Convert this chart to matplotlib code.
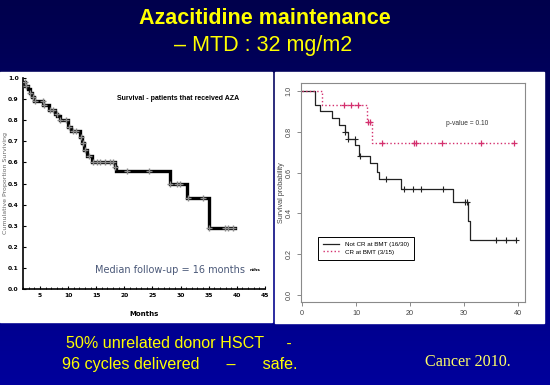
import numpy as np
import matplotlib
matplotlib.use("Agg")
import matplotlib.pyplot as plt
from matplotlib.patches import Rectangle
from matplotlib.lines import Line2D

# left panel: survival of patients that received AZA (months)
left_times = [2.0, 2.4, 2.8, 3.2, 3.6, 4.0, 5.6, 6.6, 7.7, 8.1, 8.6, 10.0, 10.6,
              12.1, 12.5, 12.9, 13.4, 14.2, 18.3, 18.5, 28.1, 31.1, 35.0]
left_surv = [0.98, 0.96, 0.95, 0.93, 0.91, 0.89, 0.87, 0.85, 0.83, 0.82, 0.80, 0.77, 0.75,
             0.72, 0.69, 0.66, 0.63, 0.60, 0.58, 0.56, 0.50, 0.43, 0.29]
left_end = 39.7
left_cens = [2.3, 2.6, 3.2, 3.8, 4.1, 5.5, 5.7, 6.8, 7.4, 8.0, 8.6, 9.7, 10.1, 10.9, 11.4,
             12.3, 12.7, 13.0, 13.8, 14.4, 15.1, 15.7, 16.6, 17.4, 18.0, 18.4, 20.4, 24.3,
             28.2, 29.3, 29.9, 31.4, 34.0, 35.1, 37.9, 38.5, 39.4]
left_xticks = [5, 10, 15, 20, 25, 30, 35, 40, 45]
left_yticks = [0.0, 0.1, 0.2, 0.3, 0.4, 0.5, 0.6, 0.7, 0.8, 0.9, 1.0]

# right panel: CR vs not CR at BMT
notcr_times = [0, 2.4, 3.3, 5.6, 6.8, 7.9, 8.5, 9.9, 10.5, 12.6, 13.8, 14.3, 18.4, 27.9, 30.8, 31.1]
notcr_surv = [1.0, 0.933, 0.90, 0.867, 0.833, 0.80, 0.767, 0.733, 0.683, 0.645, 0.605, 0.567,
              0.52, 0.455, 0.365, 0.27]
notcr_end = 39.7
notcr_cens = [8.0, 8.5, 9.8, 10.7, 15.5, 18.9, 20.5, 22.0, 26.2, 30.1, 30.6, 36.0, 37.7, 39.7]
cr_times = [0, 3.7, 12.1, 12.9]
cr_surv = [1.0, 0.933, 0.85, 0.745]
cr_end = 39.4
cr_cens = [7.8, 9.0, 10.4, 12.2, 12.6, 14.9, 20.8, 21.2, 25.9, 33.2, 39.3]
right_xticks = [0, 10, 20, 30, 40]
right_yticks = [0.0, 0.2, 0.4, 0.6, 0.8, 1.0]

YELLOW = "#ffff00"
PINK = "#d4306e"
SANS = ["Liberation Sans", "DejaVu Sans"]


def step_xy(times, surv, end):
    x = list(times) + [end]
    y = list(surv) + [surv[-1]]
    return x, y


def surv_at(times, surv, t):
    idx = np.searchsorted(times, t, side="right") - 1
    return np.array(surv)[np.clip(idx, 0, None)]


fig = plt.figure(figsize=(5.5, 3.85), dpi=100)

# slide background gradient
bg = fig.add_axes([0, 0, 1, 1], zorder=-10)
grad = np.linspace(0, 1, 256).reshape(-1, 1)
cmap = matplotlib.colors.LinearSegmentedColormap.from_list("bg", ["#00004c", "#00009c"])
bg.imshow(grad, aspect="auto", cmap=cmap, extent=[0, 1, 0, 1])
bg.axis("off")

# white panels
fig.patches.append(Rectangle((0, 1 - 322 / 385), 272 / 550, 250 / 385,
                             transform=fig.transFigure, color="white", zorder=-5))
fig.patches.append(Rectangle((275 / 550, 1 - 323 / 385), 269 / 550, 251 / 385,
                             transform=fig.transFigure, color="white", zorder=-5))

# titles
fig.text(0.482, 1 - 18 / 385, "Azacitidine maintenance", color=YELLOW, fontsize=15.5,
         fontweight="bold", family="Liberation Sans", ha="center", va="center")
fig.text(0.479, 1 - 45 / 385, "\u2013 MTD : 32 mg/m2", color=YELLOW, fontsize=15.5,
         family="Liberation Sans", ha="center", va="center")

# ---- left chart ----
ax1 = fig.add_axes([23 / 550, 1 - 289 / 385, 242 / 550, 211 / 385])
ax1.set_facecolor("none")
x, y = step_xy(left_times, left_surv, left_end)
ax1.step(x, y, where="post", color="black", lw=2.4, solid_joinstyle="miter", zorder=2)
ax1.plot(left_cens, surv_at(left_times, left_surv, left_cens), "+", color="#8a8a8a",
         ms=5, mew=1.0, zorder=3)
ax1.set_xlim(2, 45)
ax1.set_ylim(0, 1.0)
ax1.set_xticks(left_xticks)
ax1.set_xticks(np.arange(2, 46, 1), minor=True)
ax1.set_yticks(left_yticks)
ax1.set_yticklabels(["%.1f" % v for v in left_yticks])
for s in ["top", "right"]:
    ax1.spines[s].set_visible(False)
for s in ["left", "bottom"]:
    ax1.spines[s].set_linewidth(1.2)
ax1.tick_params(direction="in", length=2.5, width=0.8, labelsize=4.3, pad=3)
ax1.tick_params(which="minor", direction="in", length=1.5, width=0.6)
for lab in ax1.get_xticklabels() + ax1.get_yticklabels():
    lab.set_fontweight("bold")
ax1.set_ylabel("Cumulative Proportion Surviving", fontsize=4.5, color="#666666")
ax1.yaxis.set_label_coords(-0.062, 0.5)
ax1.set_xlabel("Months", fontsize=5, fontweight="bold", labelpad=9)
ax1.text(29.6, 0.905, "Survival - patients that received AZA", fontsize=5,
         fontweight="bold", family="Liberation Sans", ha="center", va="center")
ax1.text(28.1, 0.09, "Median follow-up = 16 months", fontsize=7, color="#4a5878",
         ha="center", va="center")
ax1.text(43.2, 0.09, "nths", fontsize=3.2, fontweight="bold", ha="center", va="center")

# ---- right chart ----
ax2 = fig.add_axes([300.7 / 550, 1 - 302 / 385, 224.3 / 550, 219 / 385])
ax2.set_facecolor("none")
x, y = step_xy(notcr_times, notcr_surv, notcr_end)
ax2.step(x, y, where="post", color="#222222", lw=0.9)
ax2.plot(notcr_cens, surv_at(notcr_times, notcr_surv, notcr_cens), "+", color="#222222",
         ms=4, mew=0.8)
x, y = step_xy(cr_times, cr_surv, cr_end)
ax2.step(x, y, where="post", color=PINK, lw=1.0, ls=":")
ax2.plot(cr_cens, surv_at(cr_times, cr_surv, cr_cens), "+", color=PINK, ms=4, mew=0.9)
ax2.set_xlim(-0.25, 41.3)
ax2.set_ylim(-0.034, 1.039)
ax2.set_xticks(right_xticks)
ax2.set_yticks(right_yticks)
ax2.set_yticklabels(["%.1f" % v for v in right_yticks], rotation=90, va="center")
for lab in ax2.get_xticklabels() + ax2.get_yticklabels():
    lab.set_family(SANS)
for s in ax2.spines.values():
    s.set_color("#8a8a8a")
    s.set_linewidth(0.8)
ax2.tick_params(direction="out", length=3, width=0.7, color="#8a8a8a",
                labelsize=5.2, labelcolor="#444444", pad=3)
ax2.set_ylabel("Survival probability", fontsize=5.2, color="#444444", family=SANS)
ax2.yaxis.set_label_coords(-0.07, 0.5)
ax2.text(30.5, 0.84, "p-value = 0.10", fontsize=4.8, color="#333333", family=SANS,
         ha="center", va="center")
handles = [Line2D([], [], color="#222222", lw=0.9),
           Line2D([], [], color=PINK, lw=1.0, ls=":")]
leg = ax2.legend(handles, ["Not CR at BMT (16/30)", "CR at BMT (3/15)"], loc="upper left",
                 bbox_to_anchor=(0.077, 0.297), prop={"family": SANS, "size": 4.5},
                 fancybox=False, framealpha=1, edgecolor="black", handlelength=2.6,
                 borderpad=0.8, labelspacing=0.3, handletextpad=0.9, borderaxespad=0)
leg.get_frame().set_linewidth(0.7)

# bottom notes
fig.text(66 / 550, 1 - 343 / 385, "50% unrelated donor HSCT     -", color=YELLOW,
         fontsize=11.6, family="Liberation Sans", ha="left", va="center")
fig.text(62 / 550, 1 - 364 / 385, "96 cycles delivered      \u2013      safe.", color=YELLOW,
         fontsize=11.6, family="Liberation Sans", ha="left", va="center")
fig.text(425 / 550, 1 - 362 / 385, "Cancer 2010.", color="#ffff66", fontsize=11.6,
         family="Liberation Serif", ha="left", va="center")

fig.savefig("out.png", dpi=100)
